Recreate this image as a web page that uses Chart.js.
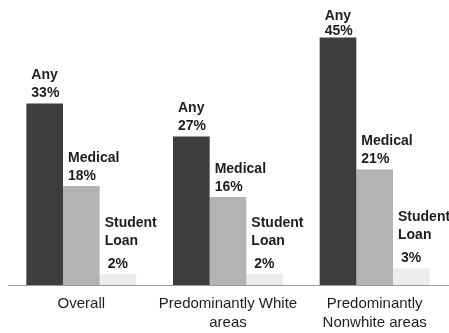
<!DOCTYPE html>
<html>
<head>
<meta charset="utf-8">
<script src="https://cdn.jsdelivr.net/npm/chart.js@4"></script>
<style>
  html, body { margin: 0; padding: 0; background: #ffffff; }
  #wrap { width: 449px; height: 333px; }
</style>
</head>
<body>
<div id="wrap"><canvas id="chart" width="449" height="333"></canvas></div>
<script>
// Share of residents with debt in collections, by area type
const categories = [
  ["Overall"],
  ["Predominantly White", "areas"],
  ["Predominantly", "Nonwhite areas"]
];
const seriesNames = [["Any"], ["Medical"], ["Student", "Loan"]];
const anyDebt = [33, 27, 45];
const medicalDebt = [18, 16, 21];
const studentLoanDebt = [2, 2, 3];
const seriesColors = ["#3d3d3d", "#b3b3b3", "#ececec"];

const labelFont = "bold 14px 'Liberation Sans', Arial, sans-serif";

// Writes each series name and value above the top-left corner of its bar
const barLabels = {
  id: "barLabels",
  afterDatasetsDraw(chart) {
    const ctx = chart.ctx;
    ctx.save();
    ctx.font = labelFont;
    ctx.fillStyle = "#1e1e1e";
    ctx.textAlign = "left";
    ctx.textBaseline = "middle";
    chart.data.datasets.forEach((ds, di) => {
      const meta = chart.getDatasetMeta(di);
      const names = seriesNames[di];
      meta.data.forEach((bar, i) => {
        const left = bar.x - bar.width / 2 + 5;
        let pctY = bar.y - 10;
        const gap = names.length > 1 ? 23 : 18;
        let firstY = pctY - gap - 18 * (names.length - 1);
        if (firstY < 16) {
          firstY = 16;
          pctY = Math.max(pctY, Math.min(firstY + 16, bar.y - 6));
        }
        names.forEach((n, k) => ctx.fillText(n, left, firstY + 18 * k));
        ctx.fillText(ds.data[i] + "%", left + (names.length > 1 ? 3 : 0), pctY);
      });
    });
    ctx.restore();
  }
};

new Chart(document.getElementById("chart"), {
  type: "bar",
  data: {
    labels: categories,
    datasets: [
      { label: "Any", data: anyDebt, backgroundColor: seriesColors[0] },
      { label: "Medical", data: medicalDebt, backgroundColor: seriesColors[1] },
      { label: "Student Loan", data: studentLoanDebt, backgroundColor: seriesColors[2] }
    ]
  },
  options: {
    responsive: false,
    animation: false,
    layout: { padding: { left: 8, right: 1, top: 10, bottom: -9 } },
    datasets: { bar: { categoryPercentage: 0.75, barPercentage: 1.0 } },
    plugins: { legend: { display: false }, tooltip: { enabled: false } },
    scales: {
      x: {
        grid: { display: false, drawTicks: false },
        border: { display: true, color: "#9a9a9a", width: 1, dash: [1, 2] },
        ticks: {
          color: "#1e1e1e",
          padding: 9,
          maxRotation: 0,
          autoSkip: false,
          font: { family: "'Liberation Sans', Arial, sans-serif", size: 15, lineHeight: 1.3 }
        }
      },
      y: { display: false, min: 0, max: 50 }
    }
  },
  plugins: [barLabels]
});
</script>
</body>
</html>
